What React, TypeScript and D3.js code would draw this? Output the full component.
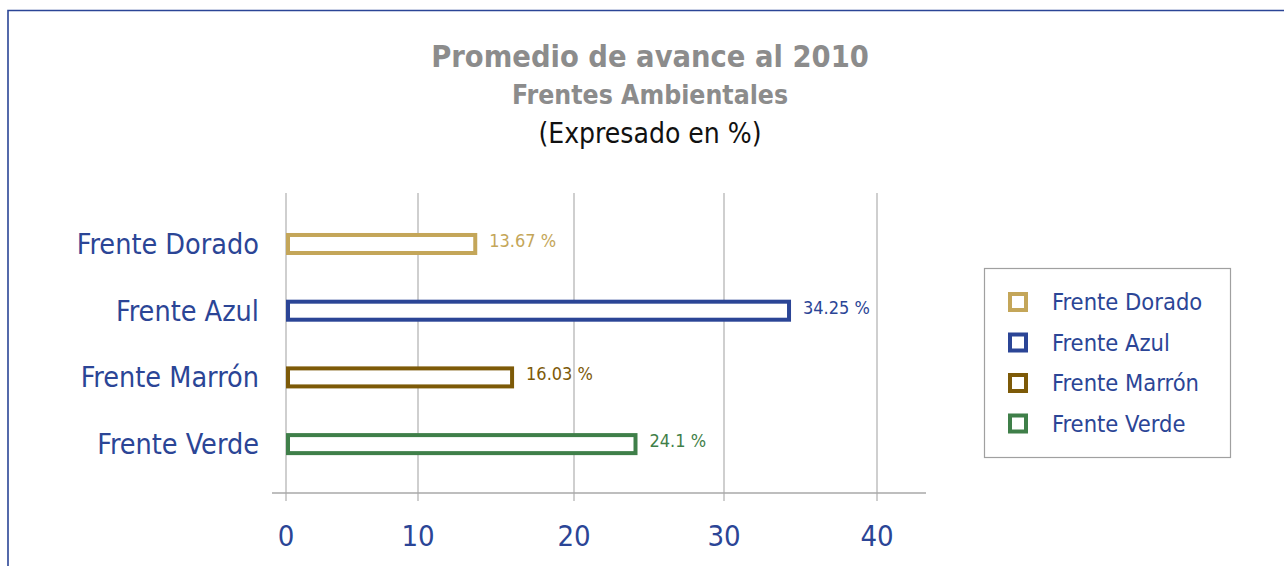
import React, { useEffect, useRef } from 'react';
import * as d3 from 'd3';

// chart data
const categories = ['Frente Dorado', 'Frente Azul', 'Frente Marrón', 'Frente Verde'];
const values = [13.67, 34.25, 16.03, 24.1];
const valueLabels = ['13.67 %', '34.25 %', '16.03 %', '24.1 %'];
const colors = ['#c4a659', '#2b4596', '#7d5a08', '#3f7f49'];
const tickValues = [0, 10, 20, 30, 40];

const W = 1284;
const H = 566;
const FONT = "'DejaVu Sans Condensed', 'Liberation Sans Narrow', Roboto, sans-serif";
const BLUE = '#2b4596';

function BarChart() {
    const ref = useRef<SVGSVGElement | null>(null);

    useEffect(() => {
        const svg = d3.select(ref.current);
        svg.selectAll('*').remove();

        // outer frame
        svg.append('path')
            .attr('d', `M8,${H} L8,10.5 L${W},10.5`)
            .attr('fill', 'none')
            .attr('stroke', BLUE)
            .attr('stroke-width', 1.6);

        // titles
        const t = svg.append('g').attr('font-family', FONT).attr('text-anchor', 'middle');
        t.append('text').attr('x', 650).attr('y', 67)
            .attr('font-size', 30.5).attr('font-weight', 'bold').attr('fill', '#8c8c8c')
            .text('Promedio de avance al 2010');
        t.append('text').attr('x', 650).attr('y', 104)
            .attr('font-size', 26.4).attr('font-weight', 'bold').attr('fill', '#8c8c8c')
            .text('Frentes Ambientales');
        t.append('text').attr('x', 650).attr('y', 143)
            .attr('font-size', 28).attr('fill', '#111')
            .text('(Expresado en %)');

        // the original's grid is not evenly spaced, so use a piecewise scale
        const x = d3.scaleLinear()
            .domain(tickValues)
            .range([286, 418, 574, 724, 877]);

        const y = d3.scaleBand()
            .domain(categories)
            .range([206.3, 481.8])
            .paddingInner(0.67)
            .paddingOuter(0.4);

        const axisY = 493;

        // grid
        svg.append('g')
            .selectAll('line')
            .data(tickValues)
            .enter()
            .append('line')
            .attr('x1', d => x(d))
            .attr('x2', d => x(d))
            .attr('y1', 193)
            .attr('y2', axisY + 8)
            .attr('stroke', '#b5b5b5')
            .attr('stroke-width', 1.3);

        svg.append('line')
            .attr('x1', 272).attr('x2', 926)
            .attr('y1', axisY).attr('y2', axisY)
            .attr('stroke', '#a8a8a8')
            .attr('stroke-width', 1.3);

        svg.append('g')
            .selectAll('text')
            .data(tickValues)
            .enter()
            .append('text')
            .attr('x', d => x(d))
            .attr('y', 546)
            .attr('text-anchor', 'middle')
            .attr('font-family', FONT)
            .attr('font-size', 29)
            .attr('fill', BLUE)
            .text(d => d);

        // category labels
        svg.append('g')
            .selectAll('text')
            .data(categories)
            .enter()
            .append('text')
            .attr('x', 259)
            .attr('y', d => y(d)! + y.bandwidth() / 2 + 10)
            .attr('text-anchor', 'end')
            .attr('font-family', FONT)
            .attr('font-size', 28.5)
            .attr('fill', BLUE)
            .text(d => d);

        // bars
        svg.append('g')
            .selectAll('rect')
            .data(values)
            .enter()
            .append('rect')
            .attr('x', x(0) + 2)
            .attr('y', (d, i) => y(categories[i])! + 2)
            .attr('width', d => x(d) - x(0) - 2)
            .attr('height', y.bandwidth() - 4)
            .attr('fill', '#fff')
            .attr('stroke', (d, i) => colors[i])
            .attr('stroke-width', 4);

        svg.append('g')
            .selectAll('text')
            .data(values)
            .enter()
            .append('text')
            .attr('x', d => x(d) + 14)
            .attr('y', (d, i) => y(categories[i])! + y.bandwidth() / 2 + 3)
            .attr('font-family', FONT)
            .attr('font-size', 18)
            .attr('fill', (d, i) => colors[i])
            .text((d, i) => valueLabels[i]);

        // legend
        const lg = svg.append('g').attr('transform', 'translate(984,268)');
        lg.append('rect')
            .attr('x', 0.5).attr('y', 0.5)
            .attr('width', 246).attr('height', 189)
            .attr('fill', '#fff')
            .attr('stroke', '#a0a0a0')
            .attr('stroke-width', 1.2);
        const item = lg.selectAll('g.item')
            .data(categories)
            .enter()
            .append('g')
            .attr('class', 'item')
            .attr('transform', (d, i) => `translate(0,${34 + i * 40.5})`);
        item.append('rect')
            .attr('x', 26).attr('y', -8)
            .attr('width', 16).attr('height', 16)
            .attr('fill', '#fff')
            .attr('stroke', (d, i) => colors[i])
            .attr('stroke-width', 4);
        item.append('text')
            .attr('x', 68)
            .attr('y', 8)
            .attr('font-family', FONT)
            .attr('font-size', 23.5)
            .attr('fill', BLUE)
            .text(d => d);
    }, []);

    return (
        <svg
            width={W}
            height={H}
            style={{ position: 'absolute', left: 0, top: 0, background: '#fff' }}
            ref={ref}
        />
    );
}

export default function App() {
    return <BarChart />;
}
